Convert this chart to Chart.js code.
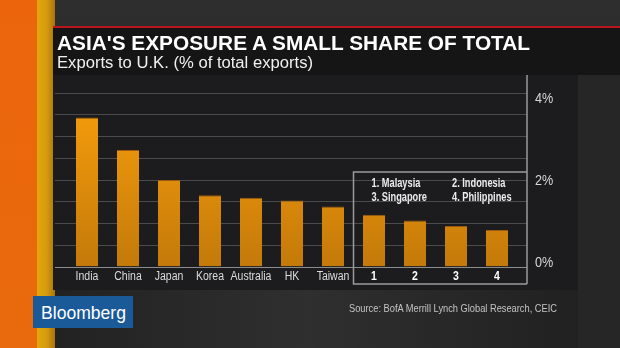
<!DOCTYPE html>
<html>
<head>
<meta charset="utf-8">
<script src="https://cdn.jsdelivr.net/npm/chart.js@4.4.1/dist/chart.umd.min.js"></script>
<style>
html, body { margin: 0; padding: 0; width: 620px; height: 348px; overflow: hidden; background: #252525; font-family: 'Liberation Sans', Arial, sans-serif; }
.abs { position: absolute; }
#bg { left: 0; top: 0; width: 620px; height: 348px; background: linear-gradient(180deg, #2e2e2e 0, #282828 25%, #232323 80%, #2b2b2b 100%); }
#lower { left: 53px; top: 290px; width: 567px; height: 58px; background: linear-gradient(90deg, #222 0, #2f2f2f 45%, #262626 75%, #1f1f1f 100%); }
#rightcol { left: 578px; top: 75px; width: 42px; height: 273px; background: #262626; }
#orange { left: 0; top: 0; width: 37px; height: 348px; background: linear-gradient(180deg, #ec650c, #e86a0c); }
#gold { left: 37px; top: 0; width: 18px; height: 348px; background: linear-gradient(90deg, #e0a80c 0, #d59a0e 55%, #a8740e 100%); }
#redline { left: 53px; top: 26px; width: 567px; height: 2px; background: #b8161c; }
#band { left: 53px; top: 28px; width: 567px; height: 47px; background: #151515; }
.txt { white-space: nowrap; transform-origin: 0 0; display: inline-block; }
#title { left: 57px; top: 32px; font-size: 21px; line-height: 21px; font-weight: bold; color: #fff; }
#subtitle { left: 57px; top: 55px; font-size: 16px; line-height: 16px; color: #f0f0f0; }
#logo { left: 33px; top: 296px; width: 100px; height: 32px; background: #1b5a98; }
#logotxt { left: 41px; top: 303px; font-size: 19px; line-height: 19px; color: #fff; }
#source { left: 349px; top: 303px; font-size: 10.5px; line-height: 10.5px; color: #c4c4c4; }
#c { position: absolute; left: 0; top: 0; z-index: 1; }
.top { z-index: 2; }
</style>
</head>
<body>
<div id="bg" class="abs"></div>
<div id="lower" class="abs"></div>
<div id="rightcol" class="abs"></div>
<div id="orange" class="abs"></div>
<div id="gold" class="abs"></div>
<div id="redline" class="abs"></div>
<div id="band" class="abs"></div>
<div id="logo" class="abs top"></div>
<span id="title" class="abs txt top" data-w="473">ASIA'S EXPOSURE A SMALL SHARE OF TOTAL</span>
<span id="subtitle" class="abs txt top" data-w="256">Exports to U.K. (% of total exports)</span>
<span id="logotxt" class="abs txt top" data-w="85">Bloomberg</span>
<span id="source" class="abs txt top" data-w="208">Source: BofA Merrill Lynch Global Research, CEIC</span>
<canvas id="c" width="620" height="348"></canvas>
<script>
// chart data
const categories = ['India', 'China', 'Japan', 'Korea', 'Australia', 'HK', 'Taiwan', '1', '2', '3', '4'];
const exportShare = [3.43, 2.68, 1.99, 1.64, 1.58, 1.52, 1.38, 1.19, 1.06, 0.93, 0.84];
const yTickValues = [0, 2, 4];
const yTickLabels = ['0%', '2%', '4%'];
const legendItems = ['1. Malaysia', '2. Indonesia', '3. Singapore', '4. Philippines'];

// squeeze header/footer text to the reference widths
document.querySelectorAll('.txt').forEach(el => {
    const target = parseFloat(el.dataset.w);
    const w = el.getBoundingClientRect().width;
    if (w > 0) el.style.transform = 'scaleX(' + (target / w) + ')';
});

function squeezed(ctx, text, x, y, font, color, sx, align) {
    ctx.save();
    ctx.font = font;
    ctx.fillStyle = color;
    ctx.textBaseline = 'middle';
    ctx.textAlign = align || 'left';
    ctx.translate(x, y);
    ctx.scale(sx, 1);
    ctx.fillText(text, 0, 0);
    ctx.restore();
}

const framePlugin = {
    id: 'frame',
    beforeDatasetsDraw(chart) {
        const ctx = chart.ctx;
        const y = chart.scales.y;
        ctx.save();
        // panel
        ctx.fillStyle = '#1c1c1e';
        ctx.fillRect(53, 75, 525, 215);
        // grid lines every 0.5%
        ctx.strokeStyle = '#4b4b4d';
        ctx.lineWidth = 1;
        y.ticks.forEach(t => {
            if (t.value <= 0 || t.value > 4) return;
            const py = Math.round(y.getPixelForValue(t.value)) + 0.5;
            ctx.beginPath(); ctx.moveTo(55, py); ctx.lineTo(527, py); ctx.stroke();
        });
        ctx.restore();
    },
    afterDatasetsDraw(chart) {
        const ctx = chart.ctx;
        const x = chart.scales.x;
        const y = chart.scales.y;
        ctx.save();
        // baseline
        const by = Math.round(y.getPixelForValue(0)) + 0.5;
        ctx.strokeStyle = '#8c8c8c';
        ctx.lineWidth = 1.2;
        ctx.beginPath(); ctx.moveTo(55, by); ctx.lineTo(527, by); ctx.stroke();
        // right axis line
        ctx.strokeStyle = '#9a9a9a';
        ctx.lineWidth = 1.5;
        ctx.beginPath(); ctx.moveTo(527, 75); ctx.lineTo(527, 284); ctx.stroke();
        // box round the numbered group
        const boxL = (x.getPixelForValue(6) + x.getPixelForValue(7)) / 2;
        ctx.beginPath();
        ctx.moveTo(527, 172); ctx.lineTo(boxL, 172); ctx.lineTo(boxL, 284); ctx.lineTo(527, 284);
        ctx.stroke();
        // category labels
        categories.forEach((c, i) => {
            const num = /^\d$/.test(c);
            squeezed(ctx, c, x.getPixelForValue(i), 277,
                (num ? 'bold ' : '') + '12.5px "Liberation Sans", Arial, sans-serif',
                num ? '#ffffff' : '#dcdcdc', 0.84, 'center');
        });
        // y labels on the right
        yTickValues.forEach((v, i) => {
            squeezed(ctx, yTickLabels[i], 535, y.getPixelForValue(v) + v * 2.4 - 3.5,
                '14px "Liberation Sans", Arial, sans-serif', '#d6d6d6', 0.9, 'left');
        });
        // legend inside the box
        legendItems.forEach((t, i) => {
            const lx = boxL + (i % 2 === 0 ? 18 : 98.5);
            const ly = i < 2 ? 184 : 197.5;
            squeezed(ctx, t, lx, ly, 'bold 12.5px "Liberation Sans", Arial, sans-serif', '#ececec', 0.74, 'left');
        });
        ctx.restore();
    }
};

const ctx = document.getElementById('c').getContext('2d');

function barFill(context) {
    const area = context.chart.chartArea;
    if (!area) return '#e08a0c';
    const g = context.chart.ctx.createLinearGradient(0, area.top + 30, 0, area.bottom);
    g.addColorStop(0, '#f59c0c');
    g.addColorStop(1, '#c47a0a');
    return g;
}

new Chart(ctx, {
    type: 'bar',
    data: {
        labels: categories,
        datasets: [{
            data: exportShare,
            backgroundColor: barFill,
            borderColor: '#9c5a10',
            borderWidth: { top: 1, left: 0, right: 0, bottom: 0 },
            borderSkipped: 'start',
            barPercentage: 0.54,
            categoryPercentage: 1
        }]
    },
    options: {
        responsive: false,
        devicePixelRatio: 1,
        animation: false,
        layout: { padding: { left: 66.5, right: 102.5, top: 75.3, bottom: 81.5 } },
        plugins: { legend: { display: false }, tooltip: { enabled: false } },
        scales: {
            x: { display: false },
            y: { display: false, min: 0, max: 4.4, ticks: { stepSize: 0.5 } }
        }
    },
    plugins: [framePlugin]
});
</script>
</body>
</html>
